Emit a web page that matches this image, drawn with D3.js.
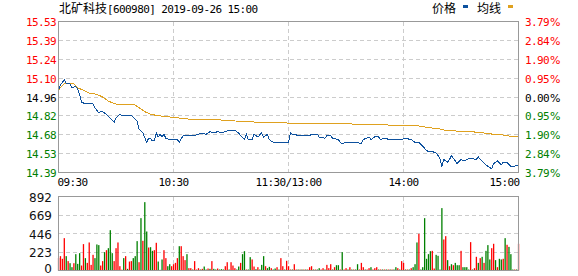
<!DOCTYPE html>
<html>
<head>
<meta charset="utf-8">
<script src="https://cdn.jsdelivr.net/npm/d3@7"></script>
<style>
body { margin: 0; background: #fff; }
svg { display: block; }
</style>
</head>
<body>
<div id="chart"></div>
<script>
const title = "北矿科技", titleRest = "[600980] 2019-09-26 15:00";
const prevClose = 14.96, maxPct = 3.79, maxVol = 892;

const priceLabels = ["15.53", "15.39", "15.24", "15.10", "14.96", "14.82", "14.68", "14.53", "14.39"];
const pctLabels = ["3.79%", "2.84%", "1.90%", "0.95%", "0.00%", "0.95%", "1.90%", "2.84%", "3.79%"];
const pctTicks = [3.79, 2.84, 1.90, 0.95, 0, -0.95, -1.90, -2.84, -3.79];
const timeLabels = ["09:30", "10:30", "11:30/13:00", "14:00", "15:00"];
const timeTicks = [0, 60, 120, 180, 240];
const volLabels = ["892", "669", "446", "223", "0"];
const volTicks = [892, 669, 446, 223, 0];

// minute index (0..240) -> price
const priceMin = [0,1,2,3,4,6,7,9,10,11,12,14,18,19,21,22,23,25,27,29,30,32,33,38,41,42,44,46,47,48,49,50,51,52,53,54,55,56,58,62,63,65,68,71,75,77,79,81,83,85,87,89,92,94,95,97,98,99,101,102,104,106,107,109,110,112,115,118,120,121,122,126,131,132,135,136,139,140,142,143,146,147,148,150,155,158,159,162,163,165,167,168,170,173,176,179,181,184,186,188,190,192,193,195,197,199,200,201,203,204,205,206,208,210,212,213,215,218,219,221,223,225,226,227,229,231,232,234,236,238,240];
const priceVal = [15.01,15.05,15.07,15.09,15.06,15.06,15.03,15.04,15.02,14.98,14.92,14.91,14.91,14.88,14.84,14.85,14.85,14.83,14.80,14.77,14.80,14.83,14.82,14.82,14.78,14.72,14.69,14.62,14.65,14.65,14.63,14.63,14.69,14.66,14.68,14.66,14.68,14.65,14.64,14.64,14.62,14.67,14.67,14.67,14.69,14.68,14.70,14.69,14.70,14.69,14.70,14.71,14.71,14.69,14.67,14.64,14.68,14.64,14.64,14.68,14.66,14.69,14.66,14.68,14.64,14.62,14.62,14.62,14.62,14.69,14.68,14.67,14.67,14.68,14.68,14.66,14.65,14.67,14.67,14.65,14.64,14.62,14.61,14.62,14.62,14.61,14.64,14.66,14.64,14.66,14.66,14.64,14.65,14.64,14.64,14.64,14.65,14.64,14.62,14.62,14.59,14.56,14.55,14.55,14.54,14.50,14.44,14.49,14.47,14.49,14.52,14.50,14.46,14.49,14.48,14.49,14.50,14.49,14.51,14.48,14.45,14.43,14.42,14.46,14.48,14.45,14.47,14.47,14.44,14.44,14.45];

const avgMin = [0,1,3,8,10,13,16,20,23,26,29,32,40,42,45,48,52,58,64,71,82,92,105,117,146,171,187,193,199,202,207,215,222,227,232,235,240];
const avgVal = [15.01,15.03,15.06,15.06,15.03,15.01,14.99,14.98,14.96,14.93,14.91,14.90,14.90,14.88,14.85,14.83,14.82,14.81,14.80,14.79,14.79,14.78,14.77,14.765,14.76,14.75,14.745,14.73,14.72,14.71,14.705,14.70,14.69,14.68,14.675,14.667,14.667];

// one bar per minute, 241 bars
const volume = [
  150,173,141,390,173,113,88,40,88,197, 80,209,60,318,149,92,338,68,189,149,
  314,306,60,113,221,245,269,486,209,113, 269,338,52,10,149,173,20,108,113,149,
  173,354,100,631,358,824,470,277,281,237, 245,334,108,8,133,245,149,52,76,52,
  76,92,149,293,293,173,125,197,28,28, 12,113,12,28,12,20,48,12,24,20,
  113,20,12,24,12,16,12,52,100,12, 100,60,28,12,48,92,197,233,12,12,
  161,133,48,16,40,12,68,173,52,28, 44,28,12,24,40,12,149,52,12,117,
  52,
  12,12,76,12,12,12,12,12,12,12, 40,52,12,12,12,28,12,28,12,68,
  28,76,12,40,64,64,12,221,12,28, 12,40,12,12,12,76,12,92,40,12,
  12,28,40,12,28,40,12,12,12,12, 12,12,12,12,12,40,28,12,113,92,
  12,12,12,28,40,76,338,442,12,40, 631,141,197,233,237,24,189,177,12,752,
  374,414,125,52,76,64,92,64,64,237, 40,40,40,12,342,12,28,165,92,149,
  165,92,237,306,133,269,322,125,40,141, 133,141,390,310,285,197,12,12,12,322
];
// 1 = price up (red), -1 = price down (green)
const volDir = [
  1,1,1,1,-1,1,-1,-1,1,-1, -1,-1,1,1,-1,1,1,1,1,-1,
  -1,-1,1,1,-1,1,-1,-1,-1,1, 1,1,1,1,-1,1,-1,1,1,-1,
  -1,-1,1,-1,1,-1,-1,1,-1,-1, 1,1,-1,-1,-1,1,1,-1,-1,1,
  1,1,1,-1,1,1,1,-1,1,1, -1,1,1,1,-1,1,-1,-1,1,-1,
  1,-1,-1,1,-1,-1,-1,1,1,-1, 1,1,1,-1,-1,1,-1,-1,1,-1,
  -1,1,1,-1,1,-1,-1,-1,1,-1, -1,1,-1,-1,1,-1,1,1,-1,1,
  1,
  1,-1,1,1,-1,1,-1,1,-1,1, 1,1,-1,1,-1,-1,1,1,-1,1,
  1,1,-1,1,-1,-1,1,-1,1,1, -1,1,-1,1,-1,-1,1,1,1,-1,
  1,1,-1,1,1,1,-1,1,-1,1, -1,1,-1,1,-1,-1,1,-1,1,1,
  -1,1,-1,1,-1,-1,-1,1,-1,-1, -1,-1,-1,-1,1,1,-1,-1,-1,-1,
  1,1,-1,1,-1,1,-1,-1,-1,1, -1,-1,-1,-1,1,-1,1,1,-1,1,
  -1,1,-1,-1,-1,1,1,-1,1,-1, -1,1,-1,1,-1,-1,-1,1,-1,1
];

const width = 578, height = 276;
const mono = "'DejaVu Sans Mono', monospace",
    cjk = "'Noto Sans CJK SC', sans-serif";
const up = "#ff0000", down = "#008000", gridColor = "#cccccc", frameColor = "#999999";

let svg = d3.select("#chart").append("svg")
    .attr("width", width).attr("height", height)
    .attr("viewBox", [0, 0, width, height]);

let x = d3.scaleLinear().domain([0, 240]).range([58.5, 518.5]);
let yPct = d3.scaleLinear().domain([-maxPct, maxPct]).range([172.5, 21.5]);
let y = p => yPct((p / prevClose - 1) * 100);
let yVol = d3.scaleLinear().domain([0, maxVol]).range([270.5, 196.5]);

const tickColor = t => t > 0 ? up : (t < 0 ? down : "#000");

// title + legend
let t = svg.append("text").attr("x", 59).attr("y", 12.5).attr("fill", "#000");
t.append("tspan").attr("font-family", cjk).attr("font-size", 12).text(title);
t.append("tspan").attr("font-family", mono).attr("font-size", 11)
    .attr("letter-spacing", -0.6).text(titleRest);

svg.append("text").attr("x", 432).attr("y", 12.5)
    .attr("font-family", cjk).attr("font-size", 12).text("价格");
svg.append("rect").attr("x", 463).attr("y", 5).attr("width", 5).attr("height", 3).attr("fill", "#0d519e");
svg.append("text").attr("x", 477).attr("y", 12.5)
    .attr("font-family", cjk).attr("font-size", 12).text("均线");
svg.append("rect").attr("x", 508).attr("y", 5).attr("width", 5).attr("height", 3).attr("fill", "#dfa11f");

// grids
const inner = timeTicks.slice(1, -1);
let grid = svg.append("g").attr("stroke", gridColor).attr("stroke-dasharray", "4,3")
    .attr("shape-rendering", "crispEdges");
grid.selectAll(".hp").data(pctTicks.slice(1, -1)).join("line")
    .attr("x1", x(0)).attr("x2", x(240))
    .attr("y1", d => yPct(d)).attr("y2", d => yPct(d));
grid.selectAll(".vp").data(inner).join("line")
    .attr("x1", d => x(d)).attr("x2", d => x(d))
    .attr("y1", yPct(maxPct)).attr("y2", yPct(-maxPct));
grid.selectAll(".hv").data(volTicks.slice(1, -1)).join("line")
    .attr("x1", x(0)).attr("x2", x(240))
    .attr("y1", d => yVol(d)).attr("y2", d => yVol(d));
grid.selectAll(".vv").data(inner).join("line")
    .attr("x1", d => x(d)).attr("x2", d => x(d))
    .attr("y1", yVol(maxVol)).attr("y2", yVol(0));

// volume bars
svg.append("g").selectAll("rect").data(volume).join("rect")
    .attr("x", (d, i) => x(i) - 0.6)
    .attr("width", 1.3)
    .attr("y", d => yVol(d))
    .attr("height", d => yVol(0) - yVol(d))
    .attr("fill", (d, i) => volDir[i] > 0 ? up : down);

// lines
let avgData = avgMin.map((m, i) => ({m, p: avgVal[i]}));
let priceData = priceMin.map((m, i) => ({m, p: priceVal[i]}));
let line = d3.line().x(d => x(d.m)).y(d => y(d.p));

svg.append("path").datum(avgData)
    .attr("fill", "none").attr("stroke", "#dfa11f").attr("stroke-width", 1)
    .attr("shape-rendering", "crispEdges").attr("d", line);
svg.append("path").datum(priceData)
    .attr("fill", "none").attr("stroke", "#0d519e").attr("stroke-width", 1)
    .attr("shape-rendering", "crispEdges").attr("d", line);

// frames
svg.append("rect").attr("x", x(0)).attr("y", yPct(maxPct))
    .attr("width", x(240) - x(0)).attr("height", yPct(-maxPct) - yPct(maxPct))
    .attr("fill", "none").attr("stroke", frameColor).attr("shape-rendering", "crispEdges");
svg.append("rect").attr("x", x(0)).attr("y", yVol(maxVol))
    .attr("width", x(240) - x(0)).attr("height", yVol(0) - yVol(maxVol))
    .attr("fill", "none").attr("stroke", frameColor).attr("shape-rendering", "crispEdges");

// left price labels
svg.append("g").selectAll("text").data(pctTicks).join("text")
    .attr("x", 56).attr("y", d => yPct(d) + 4.5)
    .attr("text-anchor", "end")
    .attr("font-family", mono).attr("font-size", 11).attr("letter-spacing", -0.6)
    .attr("fill", tickColor)
    .text((d, i) => priceLabels[i]);

// right percent labels
let pct = svg.append("g").selectAll("text").data(pctTicks).join("text")
    .attr("x", 525).attr("y", d => yPct(d) + 4.5)
    .attr("fill", tickColor);
pct.append("tspan").attr("font-family", mono).attr("font-size", 11).attr("letter-spacing", -0.6)
    .text((d, i) => pctLabels[i].replace("%", ""));
pct.append("tspan").attr("font-family", "'DejaVu Sans', sans-serif").attr("font-size", 11)
    .attr("dx", 1).text("%");

// time labels
svg.append("g").selectAll("text").data(timeTicks).join("text")
    .attr("x", (d, i) => i === 0 ? x(d) - 1 : (i === timeTicks.length - 1 ? x(d) + 1 : x(d)))
    .attr("y", 186)
    .attr("text-anchor", (d, i) => i === 0 ? "start" : (i === timeTicks.length - 1 ? "end" : "middle"))
    .attr("font-family", mono).attr("font-size", 11).attr("letter-spacing", -0.6)
    .attr("fill", "#000")
    .text((d, i) => timeLabels[i]);

// volume labels (bottom one kept inside the picture)
svg.append("g").selectAll("text").data(volTicks).join("text")
    .attr("x", 52).attr("y", d => Math.min(yVol(d) + 5, 273))
    .attr("text-anchor", "end")
    .attr("font-family", "'DejaVu Sans', sans-serif").attr("font-size", 12)
    .attr("fill", "#111")
    .text((d, i) => volLabels[i]);
</script>
</body>
</html>
